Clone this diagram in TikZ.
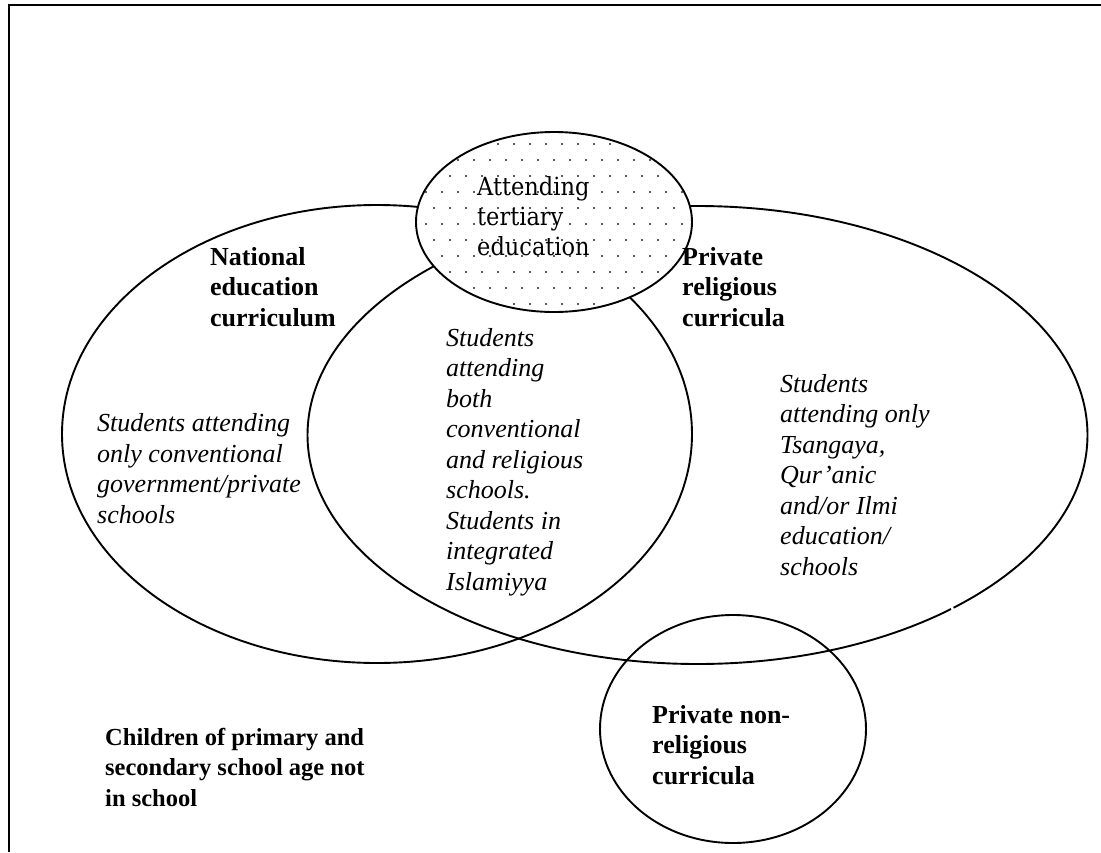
\documentclass[tikz,border=0pt]{standalone}
\usepackage{fontspec}
\setmainfont{Liberation Serif}
\newfontfamily\cambfont{DejaVu Serif}[FakeStretch=0.9]
\begin{document}
\begin{tikzpicture}[x=1pt,y=-1pt,
  venn/.style={draw=black,line width=1.9pt},
  lbl/.style={anchor=base west,inner sep=0pt,align=left,font=\fontsize{26}{30.5}\selectfont},
  boldlbl/.style={lbl,font=\fontsize{26}{30.5}\selectfont\bfseries},
  itlbl/.style={lbl,font=\fontsize{26}{30.5}\selectfont\itshape},
  tertlbl/.style={anchor=base west,inner sep=0pt,align=left,font=\fontsize{25}{30}\selectfont\cambfont}]
\useasboundingbox (0,0) rectangle (1101,852);
% frame
\draw[line width=2pt] (9,852) -- (9,5) -- (1101,5);
% big ellipses
\draw[venn] (377,434) ellipse [x radius=315pt, y radius=229pt];
\draw[venn] (697.5,435) ellipse [x radius=390pt, y radius=229pt];
% small gap in the right ellipse
\draw[white,line width=2.5pt] (950,602) -- (954,613);
% small circle
\draw[venn] (733,729) ellipse [x radius=133pt, y radius=114pt];
% dotted ellipse
\fill[white] (554,222) ellipse [x radius=138pt, y radius=90pt];
\begin{scope}
  \clip (554,222) ellipse [x radius=137pt, y radius=89pt];
  \foreach \j in {0,...,12}{
    \foreach \i in {0,...,18}{
      \pgfmathsetmacro\xx{410+16*\i+8*mod(\j,2)}
      \pgfmathsetmacro\yy{128+16*\j}
      \fill[black!85] (\xx,\yy) circle[radius=1.2pt];
    }
  }
\end{scope}
\draw[venn] (554,222) ellipse [x radius=138pt, y radius=90pt];
% texts (anchor = baseline of the last line)
\node[tertlbl] (tert) at (477,255) {Attending\\tertiary\\education};
\node[boldlbl] (nat) at (210,326) {National\\education\\curriculum};
\node[boldlbl] (priv) at (682,326) {Private\\religious\\curricula};
\node[itlbl] (convonly) at (97,523) {Students attending\\only conventional\\government/private\\schools};
\node[itlbl] (both) at (446,590) {Students\\attending\\both\\conventional\\and religious\\schools.\\Students in\\integrated\\Islamiyya};
\node[itlbl] (relonly) at (780,575) {Students\\attending only\\Tsangaya,\\Qur’anic\\and/or Ilmi\\education/\\schools};
\node[boldlbl] (nonrel) at (652,784) {Private non-\\religious\\curricula};
\node[boldlbl,font=\fontsize{24.5}{30.5}\selectfont\bfseries] (outside) at (105,806) {Children of primary and\\secondary school age not\\in school};
\end{tikzpicture}
\end{document}
